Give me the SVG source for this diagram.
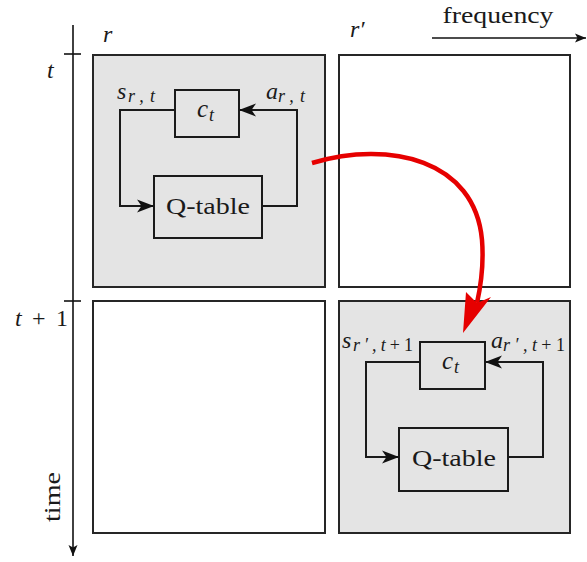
<svg xmlns="http://www.w3.org/2000/svg" width="587" height="562" viewBox="0 0 587 562">
<defs>
<style>
.cell{stroke:#262626;stroke-width:2;}
.gray{fill:#e4e4e4;}
.white{fill:#ffffff;}
.blk{fill:none;stroke:#1a1a1a;stroke-width:2;}
.box{fill:#e4e4e4;stroke:#1a1a1a;stroke-width:2;}
.ax{fill:none;stroke:#111;stroke-width:1.6;}
text{font-family:"Liberation Serif","DejaVu Serif",serif;fill:#1a1a1a;}
.it{font-style:italic;}
.sub{font-style:italic;font-size:18px;}
</style>
<marker id="stealth" markerUnits="userSpaceOnUse" markerWidth="18" markerHeight="14" refX="17" refY="7" orient="auto" viewBox="0 0 18 14">
<path d="M0,0.5 L17,7 L0,13.5 L4.5,7 Z" fill="#111"/>
</marker>
<marker id="axarrow" markerUnits="userSpaceOnUse" markerWidth="12" markerHeight="10" refX="11" refY="5" orient="auto" viewBox="0 0 12 10">
<path d="M0,0.5 L11,5 L0,9.5 L2.5,5 Z" fill="#111"/>
</marker>
</defs>
<rect width="587" height="562" fill="#ffffff"/>

<g id="axes">
<line class="ax" x1="73" y1="25" x2="73" y2="556" marker-end="url(#axarrow)"/>
<line class="ax" x1="64" y1="54" x2="81" y2="54"/>
<line class="ax" x1="64" y1="301" x2="81" y2="301"/>
<line class="ax" x1="432" y1="38" x2="586" y2="38" marker-end="url(#axarrow)"/>
<text x="498" y="23" font-size="23" text-anchor="middle" textLength="111" lengthAdjust="spacingAndGlyphs">frequency</text>
<text transform="translate(60,497) rotate(-90)" font-size="23" text-anchor="middle" textLength="50" lengthAdjust="spacingAndGlyphs">time</text>
<text class="it" x="47" y="78" font-size="24">t</text>
<text x="15" y="326" font-size="24" textLength="53" lengthAdjust="spacing"><tspan font-style="italic">t</tspan> + 1</text>
<text class="it" x="103" y="42" font-size="24">r</text>
<text class="it" x="350" y="37" font-size="24">r′</text>
</g>

<g id="cell-r-t">
<rect class="cell gray" x="93" y="55" width="232" height="232"/>
</g>
<g id="cell-rp-t">
<rect class="cell white" x="339" y="55" width="231" height="232"/>
</g>
<g id="cell-r-t1">
<rect class="cell white" x="93" y="301" width="232" height="232"/>
</g>
<g id="cell-rp-t1">
<rect class="cell gray" x="339" y="301" width="231" height="232"/>
</g>

<g id="ct-1">
<rect class="box" x="175" y="90" width="64" height="47"/>
<text class="it" x="197" y="117" font-size="25">c</text>
<text class="sub" x="209" y="121">t</text>
</g>
<g id="qtable-1">
<rect class="box" x="154" y="176" width="108" height="62"/>
<text x="208" y="214" font-size="24" text-anchor="middle" textLength="84" lengthAdjust="spacingAndGlyphs">Q-table</text>
</g>
<g id="ct-2">
<rect class="box" x="420" y="342" width="65" height="47"/>
<text class="it" x="442" y="369" font-size="25">c</text>
<text class="sub" x="454" y="373">t</text>
</g>
<g id="qtable-2">
<rect class="box" x="399" y="428" width="109" height="63"/>
<text x="454" y="466" font-size="24" text-anchor="middle" textLength="84" lengthAdjust="spacingAndGlyphs">Q-table</text>
</g>

<g id="connectors">
<polyline class="blk" points="175,110 120,110 120,206 154,206" marker-end="url(#stealth)"/>
<polyline class="blk" points="262,206 297,206 297,110 239,110" marker-end="url(#stealth)"/>
<polyline class="blk" points="420,362 366,362 366,457 399,457" marker-end="url(#stealth)"/>
<polyline class="blk" points="508,457 543,457 543,362 485,362" marker-end="url(#stealth)"/>
<path d="M312,163 C390,140 475,160 482,240 C484,265 481,285 477,303" fill="none" stroke="#e60000" stroke-width="4.5"/>
<polygon points="463,333 466,292 477,303 491,297" fill="#e60000"/>
</g>

<g id="labels">
<text class="it" x="117" y="99" font-size="24">s</text>
<text class="sub" x="128" y="102" textLength="27" lengthAdjust="spacing">r,t</text>
<text class="it" x="266" y="99" font-size="24">a</text>
<text class="sub" x="278" y="102" textLength="27" lengthAdjust="spacing">r,t</text>
<text class="it" x="342" y="348" font-size="24">s</text>
<text class="sub" x="353" y="351" textLength="60" lengthAdjust="spacing">r′,t<tspan font-style="normal">+1</tspan></text>
<text class="it" x="491" y="348" font-size="24">a</text>
<text class="sub" x="503" y="351" textLength="62" lengthAdjust="spacing">r′,t<tspan font-style="normal">+1</tspan></text>
</g>
</svg>
